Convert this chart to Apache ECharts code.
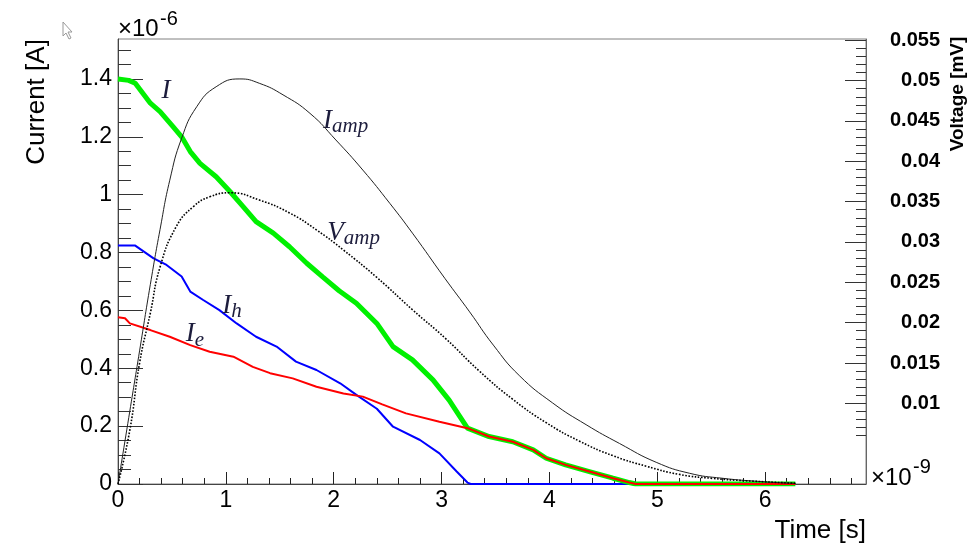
<!DOCTYPE html>
<html>
<head>
<meta charset="utf-8">
<script src="https://cdn.jsdelivr.net/npm/echarts@6/dist/echarts.min.js"></script>
<style>
  html, body { margin: 0; padding: 0; background: #fff; }
  #chart { width: 969px; height: 546px; }
</style>
</head>
<body>
<div id="chart"></div>
<script>
// Time in units of 1e-9 s, currents in units of 1e-6 A, voltage in mV.

// Total induced current I
const timeI = [0, 0.1, 0.16, 0.30, 0.39, 0.51, 0.59, 0.67, 0.76, 0.91, 1.04, 1.16, 1.28, 1.44, 1.59, 1.75, 1.90, 2.05, 2.21, 2.40, 2.55, 2.73, 2.92, 3.07, 3.17, 3.24, 3.44, 3.66, 3.85, 3.97, 4.15, 4.37, 4.59, 4.74, 4.80, 6.28];
const currentI = [1.40, 1.395, 1.385, 1.316, 1.287, 1.235, 1.200, 1.149, 1.108, 1.062, 1.010, 0.959, 0.907, 0.867, 0.820, 0.763, 0.715, 0.668, 0.625, 0.555, 0.475, 0.429, 0.360, 0.290, 0.233, 0.193, 0.164, 0.146, 0.118, 0.089, 0.066, 0.043, 0.020, 0.005, 0, 0];

// Electron current I_e
const timeIe = [0, 0.065, 0.11, 0.30, 0.48, 0.67, 0.85, 1.07, 1.25, 1.41, 1.62, 1.84, 2.09, 2.27, 2.45, 2.67, 2.98, 3.24, 3.44, 3.66, 3.85, 3.97, 4.15, 4.37, 4.59, 4.74, 4.80, 6.28];
const currentIe = [0.576, 0.573, 0.555, 0.532, 0.509, 0.480, 0.457, 0.440, 0.405, 0.383, 0.365, 0.336, 0.313, 0.302, 0.275, 0.244, 0.215, 0.193, 0.164, 0.146, 0.118, 0.089, 0.066, 0.043, 0.020, 0.005, 0, 0];

// Hole current I_h
const timeIh = [0, 0.16, 0.33, 0.45, 0.59, 0.67, 0.79, 0.94, 1.10, 1.28, 1.47, 1.65, 1.84, 2.06, 2.21, 2.40, 2.55, 2.80, 2.98, 3.14, 3.24, 3.27, 6.28];
const currentIh = [0.824, 0.824, 0.780, 0.757, 0.717, 0.665, 0.636, 0.601, 0.555, 0.509, 0.475, 0.423, 0.394, 0.348, 0.308, 0.260, 0.198, 0.152, 0.106, 0.043, 0.005, 0, 0];

// Amplifier output current I_amp
const timeIamp = [0, 0.10, 0.20, 0.30, 0.39, 0.48, 0.59, 0.73, 0.91, 1.13, 1.31, 1.53, 1.78, 2.02, 2.27, 2.52, 2.73, 3.03, 3.26, 3.48, 3.72, 4.03, 4.34, 4.65, 4.99, 5.30, 5.60, 5.98, 6.28];
const currentIamp = [0, 0.23, 0.46, 0.69, 0.88, 1.05, 1.195, 1.304, 1.373, 1.400, 1.385, 1.345, 1.281, 1.189, 1.085, 0.970, 0.867, 0.711, 0.595, 0.480, 0.375, 0.280, 0.205, 0.140, 0.075, 0.037, 0.020, 0.008, 0.002];

// Amplifier output voltage V_amp (right axis, mV)
const timeVamp = [0, 0.11, 0.20, 0.30, 0.39, 0.54, 0.70, 0.85, 1.04, 1.31, 1.59, 1.84, 2.09, 2.40, 2.73, 3.04, 3.35, 3.66, 3.97, 4.28, 4.59, 4.90, 5.20, 5.51, 5.82, 6.28];
const voltageVamp = [0, 0.0067, 0.0150, 0.0212, 0.0269, 0.0319, 0.0344, 0.0356, 0.0361, 0.0352, 0.0336, 0.0315, 0.0290, 0.0256, 0.0216, 0.0180, 0.0140, 0.0105, 0.0076, 0.0053, 0.0035, 0.0022, 0.0012, 0.0007, 0.0004, 0.0001];

// Axis ticks
const timeTicks = [0, 1, 2, 3, 4, 5, 6];
const timeMinorTicks = [0.2, 0.4, 0.6, 0.8, 1.2, 1.4, 1.6, 1.8, 2.2, 2.4, 2.6, 2.8, 3.2, 3.4, 3.6, 3.8, 4.2, 4.4, 4.6, 4.8, 5.2, 5.4, 5.6, 5.8, 6.2, 6.4, 6.6, 6.8];
const currentTicks = [0, 0.2, 0.4, 0.6, 0.8, 1, 1.2, 1.4];
const currentMinorTicks = [0.05, 0.1, 0.15, 0.25, 0.3, 0.35, 0.45, 0.5, 0.55, 0.65, 0.7, 0.75, 0.85, 0.9, 0.95, 1.05, 1.1, 1.15, 1.25, 1.3, 1.35, 1.45, 1.5];
const voltageTicks = [0.01, 0.015, 0.02, 0.025, 0.03, 0.035, 0.04, 0.045, 0.05, 0.055];
const voltageMinorTicks = [0.006, 0.007, 0.008, 0.009, 0.011, 0.012, 0.013, 0.014, 0.016, 0.017, 0.018, 0.019, 0.021, 0.022, 0.023, 0.024, 0.026, 0.027, 0.028, 0.029, 0.031, 0.032, 0.033, 0.034, 0.036, 0.037, 0.038, 0.039, 0.041, 0.042, 0.043, 0.044, 0.046, 0.047, 0.048, 0.049, 0.051, 0.052, 0.053, 0.054];

const TIME_MAX = 6.935;
const CURRENT_MAX = 1.538;
const VOLTAGE_MAX = 0.05516;

const zip = (t, v) => t.map((x, i) => [x, v[i]]);

const SANS = '"Liberation Sans", Arial, Helvetica, sans-serif';
const SERIF = '"Liberation Serif", "DejaVu Serif", serif';
const MATH_COLOR = '#1c1c3c';

function mathLabel(main, sub) {
  return {
    show: true,
    position: 'inside',
    formatter: sub ? '{m|' + main + '}{s|' + sub + '}' : '{m|' + main + '}',
    rich: {
      m: { fontFamily: SERIF, fontStyle: 'italic', fontSize: 27, color: MATH_COLOR, lineHeight: 30, verticalAlign: 'top' },
      s: { fontFamily: SERIF, fontStyle: 'italic', fontSize: 21, color: MATH_COLOR, lineHeight: 22, padding: [13, 0, 0, 0], verticalAlign: 'bottom' }
    }
  };
}

function tag(coord, main, sub) {
  return {
    silent: true,
    symbol: 'circle',
    symbolSize: 1,
    itemStyle: { color: 'rgba(0,0,0,0)' },
    data: [{ coord: coord, label: mathLabel(main, sub) }]
  };
}

// Plain text element for titles and the axis power-of-ten markers
function txt(x, y, text, size, extra) {
  return {
    type: 'text', x: x, y: y, silent: true,
    style: Object.assign({ text: text, fontFamily: SANS, fontSize: size, fill: '#000', align: 'left', verticalAlign: 'middle' }, extra || {})
  };
}

const chart = echarts.init(document.getElementById('chart'), null, { renderer: 'canvas' });

const valueAxisBase = { type: 'value', splitLine: { show: false } };

chart.setOption({
  animation: false,
  backgroundColor: '#ffffff',
  grid: { left: 118, right: 103, top: 39, bottom: 62, show: true, borderColor: '#808080', borderWidth: 1, backgroundColor: 'transparent' },
  xAxis: [
    Object.assign({}, valueAxisBase, {
      min: 0, max: TIME_MAX, position: 'bottom',
      axisLine: { show: true, onZero: false, lineStyle: { color: '#444', width: 1 } },
      axisTick: { show: true, inside: true, length: 12, customValues: timeTicks, lineStyle: { color: '#222' } },
      axisLabel: { show: true, customValues: timeTicks, fontFamily: SANS, fontSize: 23, color: '#000', margin: 5 }
    }),
    Object.assign({}, valueAxisBase, {
      min: 0, max: TIME_MAX, position: 'bottom',
      axisLine: { show: false, onZero: false },
      axisTick: { show: true, inside: true, length: 6, customValues: timeMinorTicks, lineStyle: { color: '#222' } },
      axisLabel: { show: false }
    })
  ],
  yAxis: [
    Object.assign({}, valueAxisBase, {
      min: 0, max: CURRENT_MAX, position: 'left',
      axisLine: { show: true, onZero: false, lineStyle: { color: '#444', width: 1 } },
      axisTick: { show: true, inside: true, length: 25, customValues: currentTicks, lineStyle: { color: '#333' } },
      axisLabel: { show: true, customValues: currentTicks, fontFamily: SANS, fontSize: 23, color: '#000', margin: 6 }
    }),
    Object.assign({}, valueAxisBase, {
      min: 0, max: CURRENT_MAX, position: 'left',
      axisLine: { show: false, onZero: false },
      axisTick: { show: true, inside: true, length: 13, customValues: currentMinorTicks, lineStyle: { color: '#333' } },
      axisLabel: { show: false }
    }),
    Object.assign({}, valueAxisBase, {
      min: 0, max: VOLTAGE_MAX, position: 'right',
      axisLine: { show: true, onZero: false, lineStyle: { color: '#666', width: 1 } },
      axisTick: { show: true, inside: true, length: 21, customValues: voltageTicks, lineStyle: { color: '#333' } },
      axisLabel: { show: true, customValues: voltageTicks, fontFamily: SANS, fontWeight: 'bold', fontSize: 20, color: '#000', align: 'right', margin: 74 }
    }),
    Object.assign({}, valueAxisBase, {
      min: 0, max: VOLTAGE_MAX, position: 'right',
      axisLine: { show: false, onZero: false },
      axisTick: { show: true, inside: true, length: 10, customValues: voltageMinorTicks, lineStyle: { color: '#333' } },
      axisLabel: { show: false }
    })
  ],
  series: [
    {
      name: 'I_h', type: 'line', xAxisIndex: 0, yAxisIndex: 0, z: 2,
      data: zip(timeIh, currentIh), showSymbol: false,
      lineStyle: { color: '#0000ff', width: 2 },
      markPoint: tag([1.056, 0.612], 'I', 'h')
    },
    {
      name: 'I', type: 'line', xAxisIndex: 0, yAxisIndex: 0, z: 3,
      data: zip(timeI, currentI), showSymbol: false,
      lineStyle: { color: '#00f000', width: 5 },
      markPoint: tag([0.444, 1.352], 'I')
    },
    {
      name: 'I_e', type: 'line', xAxisIndex: 0, yAxisIndex: 0, z: 4,
      data: zip(timeIe, currentIe), showSymbol: false,
      lineStyle: { color: '#ff0000', width: 2 },
      markPoint: tag([0.713, 0.512], 'I', 'e')
    },
    {
      name: 'I_amp', type: 'line', xAxisIndex: 0, yAxisIndex: 0, z: 5,
      data: zip(timeIamp, currentIamp), showSymbol: false,
      smooth: 0.5,
      lineStyle: { color: '#222', width: 1 },
      markPoint: tag([2.11, 1.251], 'I', 'amp')
    },
    {
      name: 'V_amp', type: 'line', xAxisIndex: 0, yAxisIndex: 2, z: 5,
      data: zip(timeVamp, voltageVamp), showSymbol: false,
      smooth: 0.5,
      lineStyle: { color: '#000', width: 1.6, type: [1.6, 1.6] },
      markPoint: tag([2.185, 0.0310], 'V', 'amp')
    }
  ],
  graphic: [
    txt(118, 29, '×10', 24),
    txt(160, 19, '-6', 20),
    txt(871, 478, '×10', 24),
    txt(913, 467, '-9', 20),
    Object.assign(txt(37, 102, 'Current [A]', 26, { align: 'center' }), { rotation: Math.PI / 2 }),
    Object.assign(txt(958, 94, 'Voltage [mV]', 19, { align: 'center', fontWeight: 'bold' }), { rotation: Math.PI / 2 }),
    txt(866, 531, 'Time [s]', 26, { align: 'right' }),
    {
      type: 'polygon', silent: true,
      shape: { points: [[63, 22], [63, 36], [66, 33], [69, 39], [71, 38], [68, 32], [72, 32]] },
      style: { fill: '#fff', stroke: '#999', lineWidth: 1 }
    }
  ]
});
</script>
</body>
</html>
